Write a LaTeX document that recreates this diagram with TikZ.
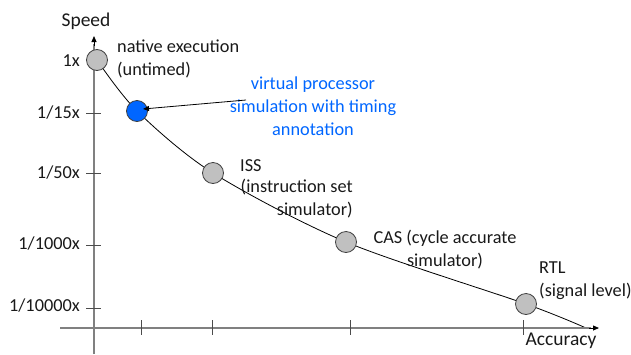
\documentclass[tikz,border=0pt]{standalone}
\usepackage{fontspec}
\setmainfont{Carlito}
\usetikzlibrary{arrows.meta}
\pgfdeclarelayer{background}
\pgfsetlayers{background,main}
\definecolor{axisgray}{RGB}{128,128,128}
\definecolor{dotgray}{RGB}{192,192,192}
\definecolor{dotblue}{RGB}{0,102,255}
\definecolor{txtblue}{RGB}{0,102,255}
\begin{document}
\begin{tikzpicture}[x=1pt,y=-1pt,
  lbl/.style={font=\fontsize{18.3}{23}\selectfont, inner sep=0pt, text=black!90},
  big/.style={font=\fontsize{19.5}{23}\selectfont},
  dot/.style={circle, minimum size=21pt, inner sep=0pt, draw=black!75, line width=0.8pt, fill=dotgray},
  axis/.style={draw=axisgray, line width=1.4pt},
  tick/.style={draw=black!70, line width=0.9pt},
  tip/.style={-{Triangle[length=6pt,width=5pt]}}
]
\useasboundingbox (0,0) rectangle (631,354);
% axes
\coordinate (yb) at (94,354);
\coordinate (yt) at (94,36);
\coordinate (xl) at (60,328);
\coordinate (xr) at (599,328);
\draw[axis] (yb) -- (94,44);
\draw[axis] (xl) -- (591,328);
\draw[tip, draw=black, line width=0.8pt] (94,46) -- (yt);
\draw[tip, draw=black, line width=0.8pt] (589,328) -- (xr);
% y ticks
\foreach \yy in {113,173,245,308} \draw[tick] (86,\yy) -- (101,\yy);
% x ticks
\foreach \xx in {141,212,350,523} \draw[tick] (\xx,320) -- (\xx,335);
% tick labels
\node[lbl, anchor=east] (l1) at (80,61) {1x};
\node[lbl, anchor=east] (l15) at (80,113) {1/15x};
\node[lbl, anchor=east] (l50) at (80,173) {1/50x};
\node[lbl, anchor=east] (l1000) at (80,244) {1/1000x};
\node[lbl, anchor=east] (l10000) at (80,306) {1/10000x};
\node[lbl, big] (speed) at (86,21) {Speed};
\node[lbl, big] (acc) at (561,341) {Accuracy};
% dots
\node[dot] (n1) at (97,60) {};
\node[dot, fill=dotblue] (nv) at (137,111) {};
\node[dot] (niss) at (213,173) {};
\node[dot] (ncas) at (346,242) {};
\node[dot] (nrtl) at (526,304) {};
\coordinate (cend) at (586,328);
\begin{pgfonlayer}{background}
\draw[black, line width=0.8pt] plot[smooth, tension=0.5] coordinates {(n1) (nv) (niss) (ncas) (nrtl) (cend)};
\end{pgfonlayer}
% labels
\node[lbl, anchor=west, align=left] (tnat) at (117,59) {native execution\\(untimed)};
\node[lbl, align=center, text=txtblue] (tv) at (313,106) {virtual processor\\simulation with timing\\annotation};
\coordinate (astart) at (246,100);
\coordinate (atip) at (143,109);
\draw[tip, black, line width=0.8pt] (astart) -- (atip);
\node[lbl, anchor=west] (tiss) at (240,166) {ISS};
\node[lbl, anchor=east, align=right] (tiss2) at (353,199) {(instruction set\\simulator)};
\node[lbl, align=center] (tcas) at (445,250) {CAS (cycle accurate\\simulator)};
\node[lbl, anchor=west, align=left] (trtl) at (539,281) {RTL\\(signal level)};
\end{tikzpicture}
\end{document}
